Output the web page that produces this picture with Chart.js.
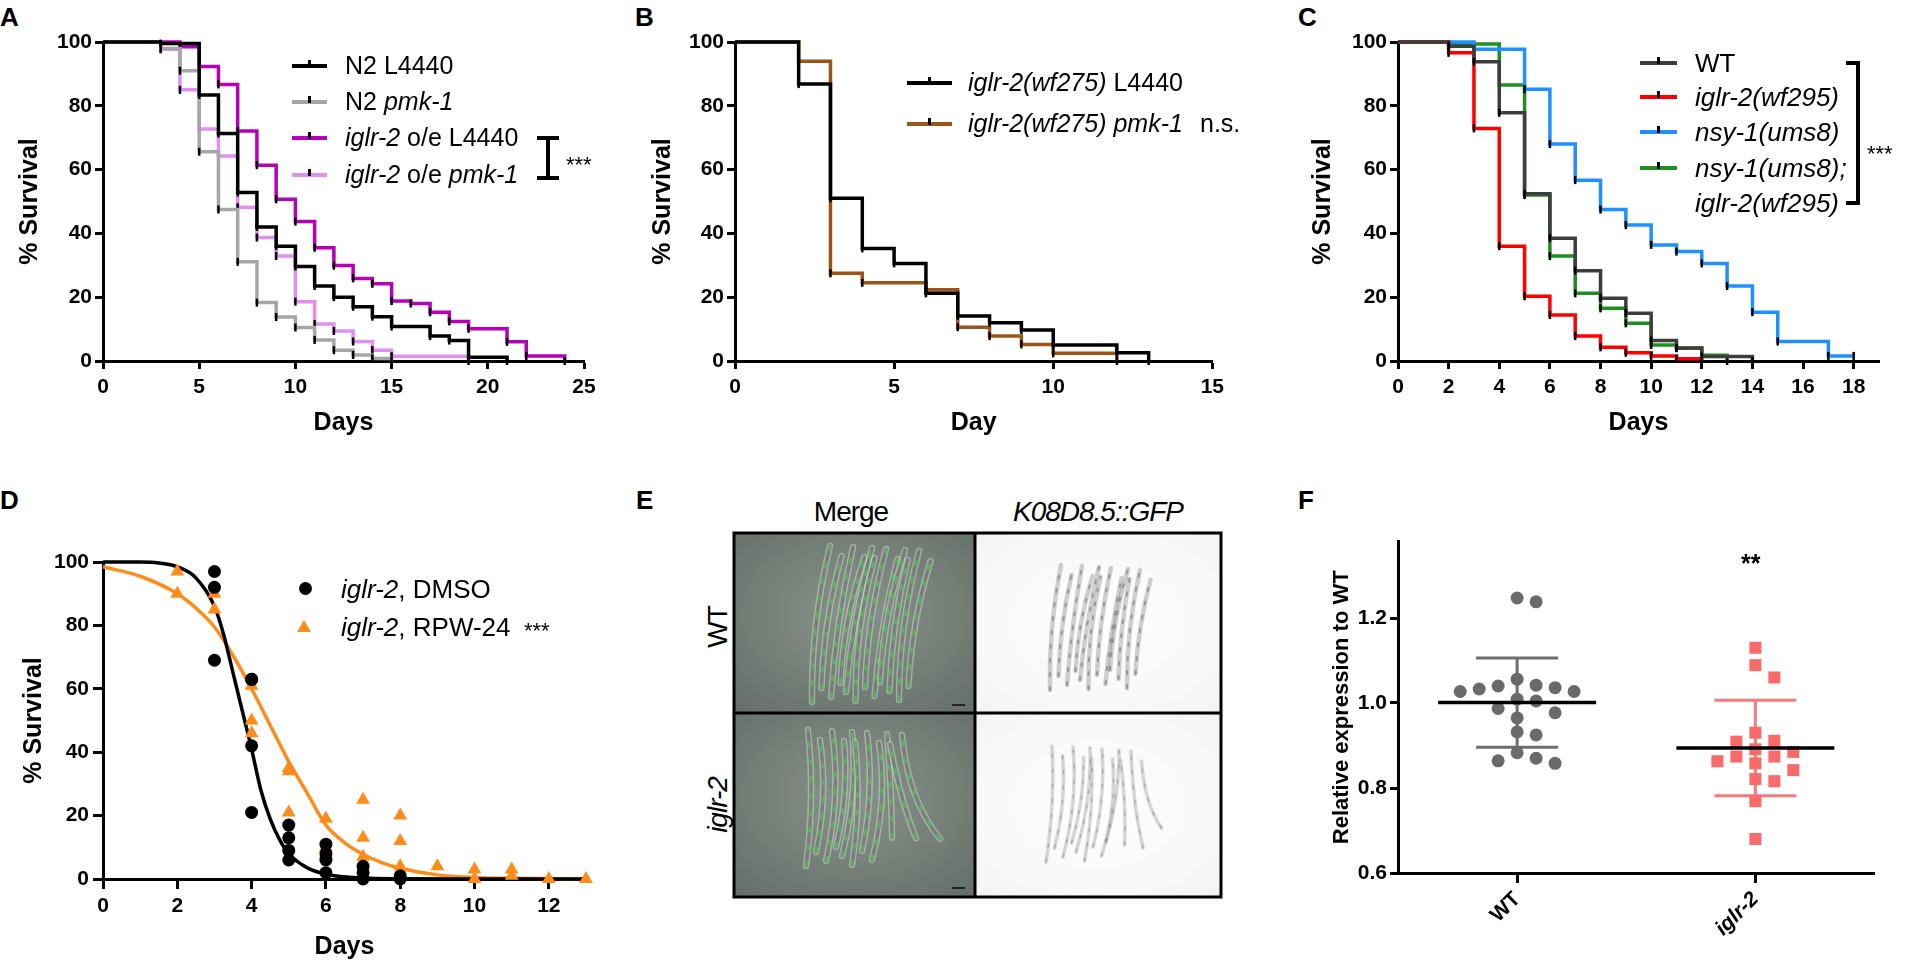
<!DOCTYPE html>
<html>
<head>
<meta charset="utf-8">
<title>iglr-2 survival and K08D8.5::GFP expression</title>
<script src="https://cdn.jsdelivr.net/npm/chart.js@4.4.1/dist/chart.umd.min.js"></script>
<style>
  html, body { margin: 0; padding: 0; background: #fff; }
  body { position: relative; width: 1906px; height: 962px; overflow: hidden;
         font-family: "Liberation Sans", Arial, Helvetica, sans-serif; color: #000; }
  canvas, .t, .sw, .bar, svg { position: absolute; }
  .t { line-height: 1; white-space: nowrap; }
  .letter { font-size: 26px; font-weight: bold; }
  .leg { font-size: 25px; }
  .leg26 { font-size: 26px; }
  .sw { height: 4px; }
  .sw::after { content: ""; position: absolute; left: 50%; top: -4px; width: 3px; height: 7px;
               margin-left: -1.5px; background: #000; }
  .bar { background: #000; }
  .cap { font-size: 28px; letter-spacing: -1px; }
  .rot { transform: translate(-50%, -50%) rotate(-90deg); }
  .ctr { transform: translateX(-50%); }
</style>
</head>
<body>

<div class="t letter" style="left:0;top:4px">A</div>
<div class="t letter" style="left:635px;top:4px">B</div>
<div class="t letter" style="left:1298px;top:4px">C</div>
<div class="t letter" style="left:0;top:487px">D</div>
<div class="t letter" style="left:636px;top:487px">E</div>
<div class="t letter" style="left:1298px;top:487px">F</div>

<canvas id="chartA" width="620" height="440" style="left:0;top:0"></canvas>
<canvas id="chartB" width="600" height="440" style="left:630px;top:0"></canvas>
<canvas id="chartC" width="616" height="440" style="left:1290px;top:0"></canvas>
<canvas id="chartD" width="620" height="482" style="left:0;top:480px"></canvas>
<canvas id="chartF" width="600" height="482" style="left:1290px;top:480px"></canvas>

<!-- A legend -->
<div class="sw" style="left:292px;top:64px;width:35px;background:#000"></div>
<div class="t leg" style="left:345px;top:53px">N2 L4440</div>
<div class="sw" style="left:292px;top:100px;width:35px;background:#a6a6a6"></div>
<div class="t leg" style="left:345px;top:89px">N2 <i>pmk-1</i></div>
<div class="sw" style="left:292px;top:136px;width:35px;background:#b700b7"></div>
<div class="t leg" style="left:345px;top:125px"><i>iglr-2</i> o/e L4440</div>
<div class="sw" style="left:292px;top:173px;width:35px;background:#e08ef0"></div>
<div class="t leg" style="left:345px;top:162px"><i>iglr-2</i> o/e <i>pmk-1</i></div>
<div class="bar" style="left:546px;top:138px;width:4px;height:40px"></div>
<div class="bar" style="left:537px;top:136px;width:22px;height:4px"></div>
<div class="bar" style="left:537px;top:176px;width:22px;height:4px"></div>
<div class="t" style="left:566px;top:154px;font-size:22px">***</div>

<!-- B legend -->
<div class="sw" style="left:907px;top:81px;width:45px;background:#000"></div>
<div class="t leg" style="left:968px;top:70px"><i>iglr-2(wf275)</i> L4440</div>
<div class="sw" style="left:907px;top:122px;width:45px;background:#9c5518"></div>
<div class="t leg" style="left:968px;top:111px"><i>iglr-2(wf275) pmk-1</i></div>
<div class="t leg" style="left:1200px;top:111px">n.s.</div>

<!-- C legend -->
<div class="sw" style="left:1640px;top:61px;width:37px;background:#3d3d3d"></div>
<div class="t leg26" style="left:1695px;top:50px">WT</div>
<div class="sw" style="left:1640px;top:95px;width:37px;background:#ff0000"></div>
<div class="t leg26" style="left:1695px;top:84px"><i>iglr-2(wf295)</i></div>
<div class="sw" style="left:1640px;top:130px;width:37px;background:#1e90ff"></div>
<div class="t leg26" style="left:1695px;top:119px"><i>nsy-1(ums8)</i></div>
<div class="sw" style="left:1640px;top:166px;width:37px;background:#1f8f1f"></div>
<div class="t leg26" style="left:1695px;top:155px"><i>nsy-1(ums8);</i></div>
<div class="t leg26" style="left:1695px;top:190px"><i>iglr-2(wf295)</i></div>
<div class="bar" style="left:1856px;top:63px;width:4px;height:142px"></div>
<div class="bar" style="left:1846px;top:61px;width:14px;height:4px"></div>
<div class="bar" style="left:1846px;top:201px;width:14px;height:4px"></div>
<div class="t" style="left:1867px;top:143px;font-size:22px">***</div>

<!-- D legend -->
<div style="position:absolute;left:299px;top:582px;width:13px;height:13px;border-radius:50%;background:#000"></div>
<div class="t leg26" style="left:341px;top:576px"><i>iglr-2</i>, DMSO</div>
<svg style="left:297px;top:620px" width="14" height="12"><polygon points="7,0 14,12 0,12" fill="#ff8c1a"/></svg>
<div class="t leg26" style="left:341px;top:614px"><i>iglr-2</i>, RPW-24</div>
<div class="t" style="left:524px;top:620px;font-size:22px">***</div>

<!-- E labels -->
<div class="t cap ctr" style="left:851px;top:498px">Merge</div>
<div class="t cap ctr" style="left:1098px;top:498px"><i>K08D8.5::GFP</i></div>
<div class="t cap rot" style="left:718px;top:627px">WT</div>
<div class="t cap rot" style="left:718px;top:805px"><i>iglr-2</i></div>
<svg id="panelE" style="left:730px;top:529px" width="495" height="372" viewBox="730 529 495 372"></svg>

<!-- F annotation -->
<div class="t" style="left:1741px;top:551px;font-size:25px;font-weight:bold">**</div>

<script>
const FONT = '"Liberation Sans", Arial, Helvetica, sans-serif';

// ---------- A: survival (%) after the deaths scored on each day ----------
const n2L4440Days = [0, 3, 5, 6, 7, 8, 9, 10, 11, 12, 13, 14, 15, 17, 18, 19, 21];
const n2L4440Surv = [100, 99.5, 83.4, 71.3, 52.8, 42.0, 36.0, 29.6, 23.5, 20.0, 17.0, 13.9, 10.8, 7.8, 6.4, 1.2, 0];
const n2Pmk1Days = [0, 3, 4, 5, 6, 7, 8, 9, 10, 11, 12, 13, 14, 15];
const n2Pmk1Surv = [100, 98, 91, 65.6, 47.5, 31.1, 18.3, 13.8, 10.5, 6.6, 3.4, 1.9, 0.8, 0];
const oeL4440Days = [0, 4, 5, 6, 7, 8, 9, 10, 11, 12, 13, 14, 15, 16, 17, 18, 19, 21, 22, 24];
const oeL4440Surv = [100, 98.5, 92.3, 86.7, 72.1, 61.4, 50.7, 43.7, 35.5, 29.9, 25.9, 24.2, 18.8, 18.0, 15.3, 12.4, 10.1, 6.0, 1.6, 0];
const oePmk1Days = [0, 3, 4, 5, 6, 7, 8, 9, 10, 11, 12, 13, 14, 15, 19];
const oePmk1Surv = [100, 97.7, 85, 72.7, 64.3, 48.2, 38.7, 32.9, 18.6, 11.6, 9.4, 6.1, 3.4, 1.5, 0];

// ---------- B ----------
const wf275L4440Days = [0, 2, 3, 4, 5, 6, 7, 8, 9, 10, 12, 13];
const wf275L4440Surv = [100, 86.8, 51, 35.3, 30.6, 21.2, 14.1, 12, 9.7, 5, 2.6, 0];
const wf275Pmk1Days = [0, 2, 3, 4, 6, 7, 8, 9, 10, 12];
const wf275Pmk1Surv = [100, 94, 27.5, 24.5, 22.3, 10.6, 7.8, 5.2, 2.4, 0];

// ---------- C ----------
const wtDays = [0, 2, 3, 4, 5, 6, 7, 8, 9, 10, 11, 12, 14];
const wtSurv = [100, 98.7, 93.8, 77.8, 52.4, 38.5, 28.3, 19.7, 15, 6.4, 4.1, 1.4, 0];
const wf295Days = [0, 2, 3, 4, 5, 6, 7, 8, 9, 10, 11, 12];
const wf295Surv = [100, 96.6, 72.9, 36, 20.3, 14.4, 7.8, 4.3, 2.6, 1.6, 0.7, 0];
const ums8Days = [0, 3, 5, 6, 7, 8, 9, 10, 11, 12, 13, 14, 15, 17, 18];
const ums8Surv = [100, 97.7, 85.2, 68, 56.7, 47.5, 42.6, 36.4, 34.3, 30.6, 23.5, 15.3, 6.1, 1.6, 1.6];
const doubleDays = [0, 2, 4, 5, 6, 7, 8, 9, 10, 11, 12, 13];
const doubleSurv = [100, 99.4, 86.5, 52, 32.9, 21.2, 16.5, 11.8, 5, 4, 1.8, 0];

// ---------- D: replicate points and the fitted curves ----------
const dmsoDays = [3, 3, 3, 4, 4, 4, 4, 5, 5, 5, 5, 6, 6, 6, 6, 7, 7, 7, 8, 8];
const dmsoSurv = [97, 92, 69, 63, 63, 42, 21, 17, 13, 9, 6, 11, 8, 6, 2, 4, 2, 0, 1, 0];
const rpwDays = [2, 2, 3, 3, 4, 4, 4, 5, 5, 5, 6, 6, 6, 7, 7, 7, 8, 8, 8, 9, 10, 10, 11, 11, 12, 13];
const rpwSurv = [97, 90, 90, 85, 61, 50, 46, 35, 34, 21, 19, 10, 8, 25, 13, 7, 20, 12, 4, 4, 3, 0, 3, 1, 0, 0];
const dmsoFitDays = [0, 1, 1.5, 2, 2.5, 3, 3.25, 3.5, 3.75, 4, 4.25, 4.5, 4.75, 5, 5.5, 6, 7, 8, 10, 13];
const dmsoFitSurv = [100, 100, 99.7, 98.5, 95, 86, 77, 65, 53, 41, 28, 19, 12.5, 8, 3.5, 1.5, 0.3, 0.1, 0, 0];
const rpwFitDays = [0, 1, 2, 2.5, 3, 3.5, 4, 4.5, 5, 5.5, 6, 6.5, 7, 7.5, 8, 9, 10, 11, 13];
const rpwFitSurv = [98.5, 95.5, 90, 85.5, 79.5, 70.5, 60, 48.5, 37, 27, 17, 11.5, 7.8, 5.2, 3.4, 1.3, 0.5, 0.2, 0];

// ---------- F: relative expression to WT ----------
const fGroups = ['WT', 'iglr-2'];
const wtExpr = [1.238, 1.247, 1.042, 1.036, 1.027, 1.027, 1.033, 1.040, 1.056, 1.005,
                1.009, 0.977, 0.987, 0.965, 0.932, 0.925, 0.883, 0.870, 0.858, 0.864];
const iglrExpr = [1.130, 1.089, 1.060, 0.930, 0.909, 0.911, 0.885, 0.874, 0.891, 0.863,
                  0.858, 0.874, 0.842, 0.816, 0.821, 0.769, 0.680];

// tick values
const survTicks = [0, 20, 40, 60, 80, 100];
const aDayTicks = [0, 5, 10, 15, 20, 25];
const bDayTicks = [0, 5, 10, 15];
const cDayTicks = [0, 2, 4, 6, 8, 10, 12, 14, 16, 18];
const dDayTicks = [0, 2, 4, 6, 8, 10, 12];
const fExprTicks = [0.6, 0.8, 1.0, 1.2];
const fGroupTicks = [1, 2];

// ---------- helpers ----------
function pts(xs, ys) {
  return xs.map((x, i) => ({ x: x, y: ys[i] }));
}

function stepLine(xs, ys, color) {
  return {
    data: pts(xs, ys),
    borderColor: color,
    borderWidth: 3.5,
    stepped: 'before',
    clip: false,
    pointStyle: 'line',
    pointRotation: 90,
    pointRadius: c => (c.dataIndex === 0 ? 0 : 4),
    pointBorderColor: '#000',
    pointBorderWidth: 2.5
  };
}

function scaleOpts(c) {
  return {
    type: 'linear',
    min: c.min,
    max: c.max,
    afterBuildTicks: s => { s.ticks = c.ticks.map(v => ({ value: v })); },
    afterFit: s => {
      if (c.h !== undefined) s.height = c.h;
      if (c.w !== undefined) s.width = c.w;
    },
    border: { display: true, color: '#000', width: 3 },
    grid: { drawOnChartArea: false, drawTicks: true, tickLength: c.tick || 8, tickWidth: 3, tickColor: '#000' },
    ticks: {
      color: '#000', padding: c.pad, autoSkip: false,
      maxRotation: c.rot || 0, minRotation: c.rot || 0,
      font: c.font || { family: FONT, size: 21, weight: 'bold' },
      callback: c.label || (v => String(v))
    },
    title: {
      display: !!c.title, text: c.title, color: '#000', padding: c.titlePad || 0,
      font: { family: FONT, size: c.titleSize || 25, weight: 'bold' }
    }
  };
}

function draw(id, pad, x, y, datasets, plugins) {
  return new Chart(document.getElementById(id), {
    type: 'line',
    data: { datasets: datasets },
    options: {
      responsive: false,
      animation: false,
      devicePixelRatio: 1,
      events: [],
      layout: { padding: pad },
      plugins: { legend: { display: false }, tooltip: { enabled: false } },
      scales: { x: scaleOpts(x), y: scaleOpts(y) }
    },
    plugins: plugins || []
  });
}

// ---------- A ----------
draw('chartA', { top: 42, right: 36, left: 0, bottom: 0 },
  { min: 0, max: 25, ticks: aDayTicks, h: 79, pad: 6, title: 'Days', titlePad: { bottom: 2 } },
  { min: 0, max: 100, ticks: survTicks, w: 103, pad: 3, title: '% Survival', titlePad: { top: 15 } },
  [
    stepLine(n2L4440Days, n2L4440Surv, '#000000'),
    stepLine(n2Pmk1Days, n2Pmk1Surv, '#a6a6a6'),
    stepLine(oeL4440Days, oeL4440Surv, '#b700b7'),
    stepLine(oePmk1Days, oePmk1Surv, '#e08ef0')
  ]);

// ---------- B ----------
draw('chartB', { top: 42, right: 15, left: 0, bottom: 0 },
  { min: 0, max: 15, ticks: bDayTicks, h: 79, pad: 6, title: 'Day', titlePad: { bottom: 2 } },
  { min: 0, max: 100, ticks: survTicks, w: 105, pad: 3, title: '% Survival', titlePad: { top: 18 } },
  [
    stepLine(wf275L4440Days, wf275L4440Surv, '#000000'),
    stepLine(wf275Pmk1Days, wf275Pmk1Surv, '#9c5518')
  ]);

// ---------- C ----------
draw('chartC', { top: 42, right: 27, left: 0, bottom: 0 },
  { min: 0, max: 19, ticks: cDayTicks, h: 79, pad: 6, title: 'Days', titlePad: { bottom: 2 } },
  { min: 0, max: 100, ticks: survTicks, w: 108, pad: 3, title: '% Survival', titlePad: { top: 18 } },
  [
    stepLine(wtDays, wtSurv, '#3d3d3d'),
    stepLine(wf295Days, wf295Surv, '#ff0000'),
    stepLine(ums8Days, ums8Surv, '#1e90ff'),
    stepLine(doubleDays, doubleSurv, '#1f8f1f')
  ]);

// ---------- D ----------
draw('chartD', { top: 82, right: 34, left: 0, bottom: 0 },
  { min: 0, max: 13, ticks: dDayTicks, h: 83, tick: 10, pad: 5, title: 'Days', titlePad: { bottom: 0 } },
  { min: 0, max: 100, ticks: survTicks, w: 103, tick: 10, pad: 4, title: '% Survival', titlePad: { top: 19 } },
  [
    { data: pts(dmsoDays, dmsoSurv), showLine: false, clip: false, pointStyle: 'circle',
      pointRadius: 6.5, pointBackgroundColor: '#000', pointBorderWidth: 0 },
    { data: pts(rpwDays, rpwSurv), showLine: false, clip: false, pointStyle: 'triangle',
      pointRadius: 8, pointBackgroundColor: '#ff8c1a', pointBorderWidth: 0 },
    { data: pts(dmsoFitDays, dmsoFitSurv), borderColor: '#000', borderWidth: 3.5, pointRadius: 0,
      cubicInterpolationMode: 'monotone', clip: false },
    { data: pts(rpwFitDays, rpwFitSurv), borderColor: '#ff8c1a', borderWidth: 3.5, pointRadius: 0,
      cubicInterpolationMode: 'monotone', clip: false }
  ]);

// ---------- F ----------
const F_PX_X = 238.5;   // pixels per group step on the x axis
const F_PX_Y = 425;     // pixels per unit of relative expression
const F_MEAN_HALF = 79; // half width of the mean bar, px
const F_CAP_HALF = 41;  // half width of the SD caps, px

// lay points side by side where they would overlap (simple beeswarm)
function swarm(values, minDist, step) {
  const order = values.map((v, i) => i).sort((a, b) => values[b] - values[a]);
  const placed = [];
  const off = values.map(() => 0);
  for (const i of order) {
    const y = values[i] * F_PX_Y;
    for (let k = 0; k < 40; k++) {
      const dx = (k % 2 ? 1 : -1) * Math.ceil(k / 2) * step;
      if (placed.every(p => Math.hypot(p.x - dx, p.y - y) >= minDist)) {
        off[i] = dx;
        placed.push({ x: dx, y: y });
        break;
      }
    }
  }
  return off;
}

function mean(a) { return a.reduce((s, v) => s + v, 0) / a.length; }
function sd(a) {
  const m = mean(a);
  return Math.sqrt(a.reduce((s, v) => s + (v - m) * (v - m), 0) / (a.length - 1));
}

const fStats = [
  { x: 1, vals: wtExpr, color: '#6e6e6e' },
  { x: 2, vals: iglrExpr, color: '#f77b7b' }
];

function drawStats(chart, meanBar) {
  const ctx = chart.ctx, xs = chart.scales.x, ys = chart.scales.y;
  ctx.save();
  ctx.lineCap = 'butt';
  fStats.forEach(g => {
    const m = mean(g.vals), s = sd(g.vals);
    const px = xs.getPixelForValue(g.x);
    if (meanBar) {
      const py = ys.getPixelForValue(m);
      ctx.strokeStyle = '#000';
      ctx.lineWidth = 3.5;
      ctx.beginPath();
      ctx.moveTo(px - F_MEAN_HALF, py);
      ctx.lineTo(px + F_MEAN_HALF, py);
      ctx.stroke();
    } else {
      const top = ys.getPixelForValue(m + s), bot = ys.getPixelForValue(m - s);
      ctx.strokeStyle = g.color;
      ctx.lineWidth = 3;
      ctx.beginPath();
      ctx.moveTo(px, top); ctx.lineTo(px, bot);
      ctx.moveTo(px - F_CAP_HALF, top); ctx.lineTo(px + F_CAP_HALF, top);
      ctx.moveTo(px - F_CAP_HALF, bot); ctx.lineTo(px + F_CAP_HALF, bot);
      ctx.stroke();
    }
  });
  ctx.restore();
}

const meanSdPlugin = {
  id: 'meanSd',
  beforeDatasetsDraw(chart) { drawStats(chart, false); },
  afterDatasetsDraw(chart) { drawStats(chart, true); }
};

const wtOff = swarm(wtExpr, 14, 19);
const iglrOff = swarm(iglrExpr, 14, 19);

draw('chartF', { top: 61.5, right: 15.5, left: 0, bottom: 0 },
  { min: 0.5, max: 2.5, ticks: fGroupTicks, h: 89, tick: 10, pad: 4, rot: 45,
    font: c => ({ family: FONT, size: 21, weight: 'bold',
                  style: c.tick && c.tick.value === 2 ? 'italic' : 'normal' }),
    label: v => fGroups[v - 1] },
  { min: 0.6, max: 1.38, ticks: fExprTicks, w: 108, pad: 3, label: v => v.toFixed(1),
    title: 'Relative expression to WT', titleSize: 22, titlePad: { top: 39 } },
  [
    { data: wtExpr.map((v, i) => ({ x: 1 + wtOff[i] / F_PX_X, y: v })), showLine: false, clip: false,
      pointStyle: 'circle', pointRadius: 6.5, pointBackgroundColor: '#6a6a6a', pointBorderWidth: 0 },
    { data: iglrExpr.map((v, i) => ({ x: 2 + iglrOff[i] / F_PX_X, y: v })), showLine: false, clip: false,
      pointStyle: 'rect', pointRadius: 8.5, pointBackgroundColor: '#f86b6b', pointBorderWidth: 0 }
  ],
  [meanSdPlugin]);

// ---------- E: micrograph panels (drawn, not data) ----------
(function () {
  const NS = 'http://www.w3.org/2000/svg';
  const svg = document.getElementById('panelE');
  function el(tag, attrs) {
    const e = document.createElementNS(NS, tag);
    for (const k in attrs) e.setAttribute(k, attrs[k]);
    svg.appendChild(e);
    return e;
  }
  const defs = el('defs', {});
  defs.innerHTML =
    '<radialGradient id="mg" cx="50%" cy="45%" r="70%">' +
    '<stop offset="0" stop-color="#87938a"/><stop offset="1" stop-color="#65716a"/></radialGradient>' +
    '<radialGradient id="wg" cx="50%" cy="50%" r="70%">' +
    '<stop offset="0" stop-color="#ffffff"/><stop offset="1" stop-color="#f4f4f4"/></radialGradient>';

  el('rect', { x: 735, y: 534, width: 239, height: 178, fill: 'url(#mg)' });
  el('rect', { x: 735, y: 714, width: 239, height: 182, fill: 'url(#mg)' });
  el('rect', { x: 976, y: 534, width: 244, height: 178, fill: 'url(#wg)' });
  el('rect', { x: 976, y: 714, width: 244, height: 182, fill: 'url(#wg)' });

  function worms(cfg) {
    for (let i = 0; i < cfg.n; i++) {
      const bx = cfg.x0 + i * cfg.dx + ((i * 5) % 4);
      const by = cfg.yb - ((i * 37) % 23);
      const tx = bx + cfg.lean + ((i * 11) % 9) - 4;
      const ty = cfg.yt + ((i * 29) % 19);
      const curl = i >= cfg.n - cfg.curlN ? (i - cfg.n + cfg.curlN + 1) * cfg.curl : 0;
      const cx = (bx + tx) / 2 + cfg.bend + ((i * 7) % 5) - 2;
      const cy = (by + ty) / 2;
      const ex = bx + curl, ey = by - curl * 0.6;
      const d = 'M' + ex + ' ' + ey + ' Q' + cx + ' ' + cy + ' ' + tx + ' ' + ty;
      cfg.strokes.forEach(s => {
        el('path', { d: d, fill: 'none', stroke: s.c, 'stroke-width': s.w, 'stroke-opacity': s.o,
                     'stroke-linecap': 'round', 'stroke-dasharray': s.da || 'none' });
      });
    }
  }
  const merge = [
    { c: '#dde3da', w: 6.5, o: 0.45 },
    { c: '#4f5b50', w: 3.5, o: 0.55 },
    { c: '#3fe03f', w: 2.5, o: 0.55, da: '4 13' }
  ];
  const gfp = [
    { c: '#8a8a8a', w: 4.5, o: 0.4 },
    { c: '#333', w: 2, o: 0.35, da: '3 11' }
  ];
  worms({ n: 12, x0: 812, dx: 8.5, yb: 702, yt: 546, lean: 22, bend: -8, curlN: 0, curl: 0, strokes: merge });
  worms({ n: 11, x0: 806, dx: 9, yb: 866, yt: 730, lean: 6, bend: 10, curlN: 3, curl: 14, strokes: merge });
  worms({ n: 12, x0: 1050, dx: 7.5, yb: 690, yt: 565, lean: 15, bend: -5, curlN: 0, curl: 0, strokes: gfp });
  worms({ n: 12, x0: 1046, dx: 7.5, yb: 862, yt: 746, lean: 10, bend: 8, curlN: 3, curl: 10,
          strokes: [{ c: '#9a9a9a', w: 3.5, o: 0.4 }, { c: '#555', w: 1.5, o: 0.3, da: '3 12' }] });

  // scale bars
  el('line', { x1: 952, y1: 705, x2: 965, y2: 705, stroke: '#222', 'stroke-width': 2 });
  el('line', { x1: 952, y1: 888, x2: 965, y2: 888, stroke: '#222', 'stroke-width': 2 });

  // frames
  el('rect', { x: 734, y: 533, width: 487, height: 364, fill: 'none', stroke: '#000', 'stroke-width': 3 });
  el('line', { x1: 975, y1: 533, x2: 975, y2: 897, stroke: '#000', 'stroke-width': 3 });
  el('line', { x1: 734, y1: 713, x2: 1221, y2: 713, stroke: '#000', 'stroke-width': 3 });
})();
</script>
</body>
</html>
